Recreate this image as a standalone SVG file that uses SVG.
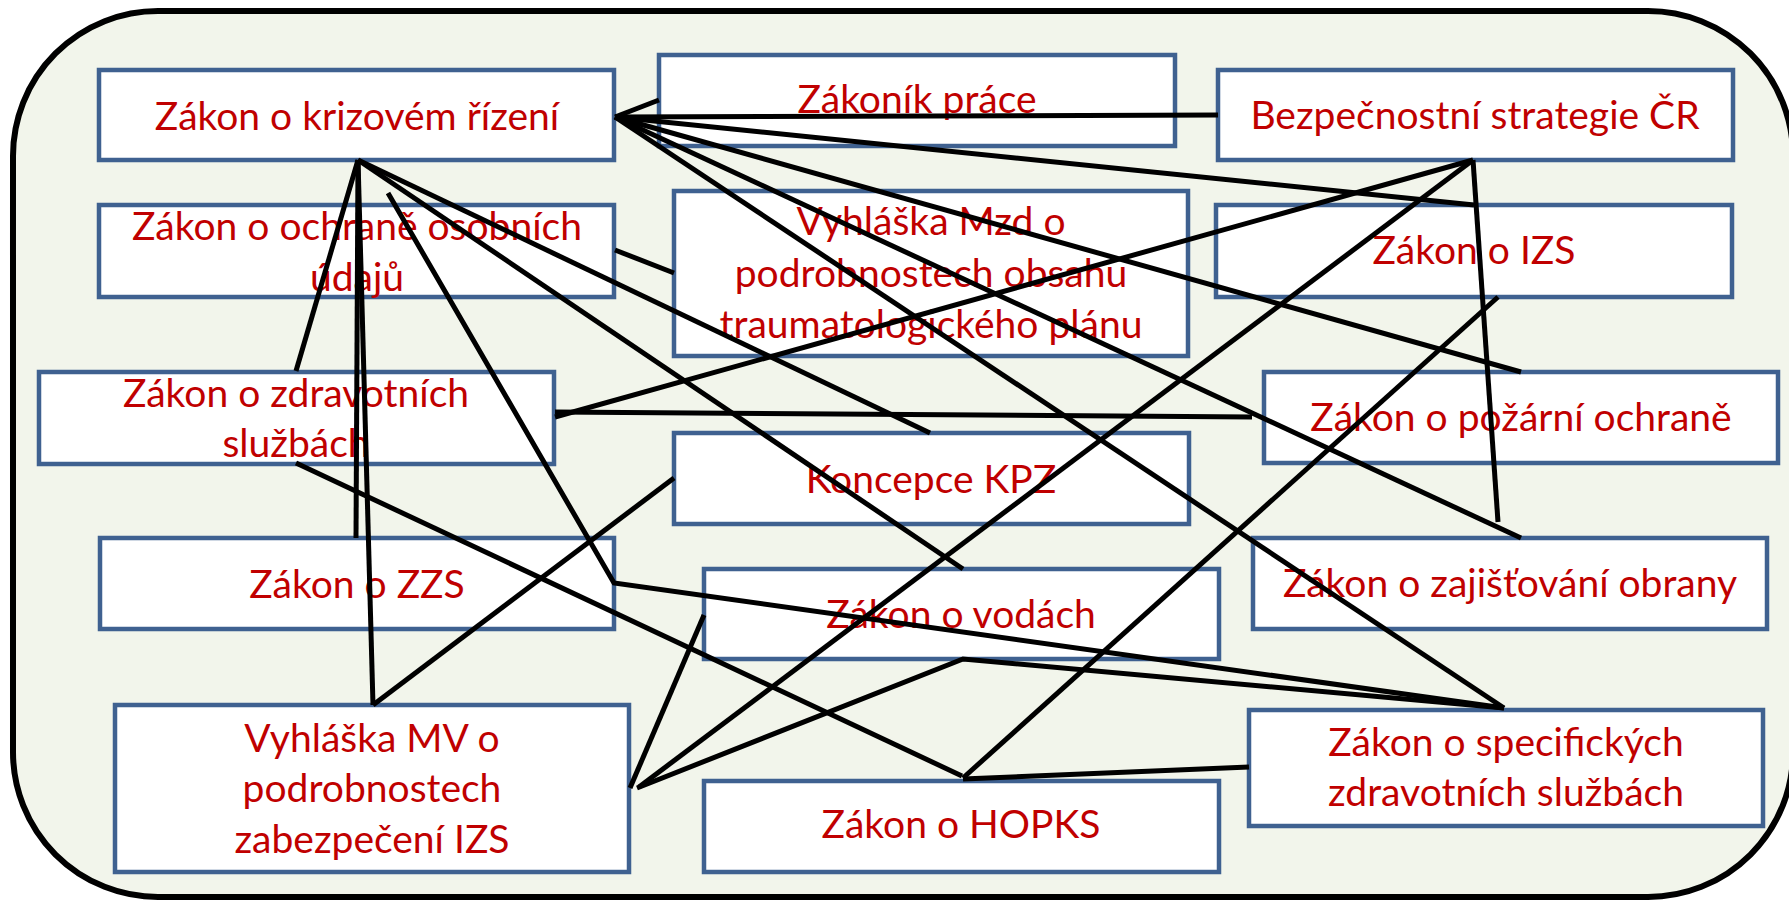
<svg xmlns="http://www.w3.org/2000/svg" width="1789" height="901" viewBox="0 0 1789 901">
<style>
.bg{fill:#F2F5EB;stroke:#000;stroke-width:6}
.box{fill:#FFFFFF;stroke:#3F6190;stroke-width:4.5}
.t{font-family:Lato,"Liberation Sans",sans-serif;font-size:39px;fill:#C00000;text-anchor:middle}
.c{stroke:#000;stroke-width:5;fill:none}
</style>
<rect class="bg" x="13" y="11" width="1780" height="886" rx="145" ry="145"/>
<g id="n1"><rect class="box" x="99" y="70" width="515" height="90"/><text class="t" x="357" y="130">Zákon o krizovém řízení</text></g>
<g id="n2"><rect class="box" x="659" y="55" width="516" height="91"/><text class="t" x="917" y="113">Zákoník práce</text></g>
<g id="n3"><rect class="box" x="1218" y="70" width="515" height="90"/><text class="t" x="1475" y="129">Bezpečnostní strategie ČR</text></g>
<g id="n4"><rect class="box" x="99" y="205" width="515" height="92"/><text class="t" x="357" y="240">Zákon o ochraně osobních</text><text class="t" x="357" y="291">údajů</text></g>
<g id="n5"><rect class="box" x="674" y="191" width="514" height="165"/><text class="t" x="931" y="235">Vyhláška Mzd o</text><text class="t" x="931" y="287">podrobnostech obsahu</text><text class="t" x="931" y="338">traumatologického plánu</text></g>
<g id="n6"><rect class="box" x="1216" y="205" width="516" height="92"/><text class="t" x="1474" y="264">Zákon o IZS</text></g>
<g id="n7"><rect class="box" x="39" y="372" width="515" height="92"/><text class="t" x="296" y="407">Zákon o zdravotních</text><text class="t" x="296" y="457">službách</text></g>
<g id="n8"><rect class="box" x="1264" y="372" width="514" height="91"/><text class="t" x="1521" y="431">Zákon o požární ochraně</text></g>
<g id="n9"><rect class="box" x="674" y="433" width="515" height="91"/><text class="t" x="931" y="493">Koncepce KPZ</text></g>
<g id="n10"><rect class="box" x="100" y="538" width="514" height="91"/><text class="t" x="357" y="598">Zákon o ZZS</text></g>
<g id="n11"><rect class="box" x="704" y="569" width="515" height="90"/><text class="t" x="961" y="628">Zákon o vodách</text></g>
<g id="n12"><rect class="box" x="1253" y="538" width="514" height="91"/><text class="t" x="1510" y="597">Zákon o zajišťování obrany</text></g>
<g id="n13"><rect class="box" x="115" y="705" width="514" height="167"/><text class="t" x="372" y="752">Vyhláška MV o</text><text class="t" x="372" y="802">podrobnostech</text><text class="t" x="372" y="853">zabezpečení IZS</text></g>
<g id="n14"><rect class="box" x="704" y="781" width="515" height="91"/><text class="t" x="961" y="838">Zákon o HOPKS</text></g>
<g id="n15"><rect class="box" x="1249" y="710" width="514" height="116"/><text class="t" x="1506" y="756">Zákon o specifických</text><text class="t" x="1506" y="806">zdravotních službách</text></g>
<g id="connectors">
<line class="c" x1="615" y1="117" x2="659" y2="100"/>
<line class="c" x1="615" y1="117" x2="1218" y2="115"/>
<line class="c" x1="615" y1="117" x2="1474" y2="205"/>
<line class="c" x1="615" y1="117" x2="1521" y2="372"/>
<line class="c" x1="615" y1="117" x2="1521" y2="538"/>
<line class="c" x1="615" y1="117" x2="1504" y2="708"/>
<line class="c" x1="358" y1="160" x2="296" y2="371"/>
<line class="c" x1="358" y1="160" x2="356" y2="538"/>
<line class="c" x1="358" y1="160" x2="373" y2="705"/>
<line class="c" x1="358" y1="160" x2="930" y2="433"/>
<line class="c" x1="358" y1="160" x2="963" y2="569"/>
<polyline class="c" points="388,193 614,583 1504,708"/>
<line class="c" x1="615" y1="250" x2="674" y2="273"/>
<line class="c" x1="555" y1="417" x2="1473" y2="160"/>
<line class="c" x1="555" y1="412" x2="1252" y2="417"/>
<line class="c" x1="639" y1="787" x2="1473" y2="160"/>
<line class="c" x1="1473" y1="160" x2="1498" y2="522"/>
<line class="c" x1="1498" y1="297" x2="963" y2="778"/>
<line class="c" x1="1249" y1="767" x2="963" y2="779"/>
<line class="c" x1="296" y1="463" x2="962" y2="776"/>
<line class="c" x1="674" y1="478" x2="373" y2="705"/>
<line class="c" x1="704" y1="615" x2="630" y2="788"/>
<polyline class="c" points="637,788 963,659 1504,708"/>
</g>
</svg>
